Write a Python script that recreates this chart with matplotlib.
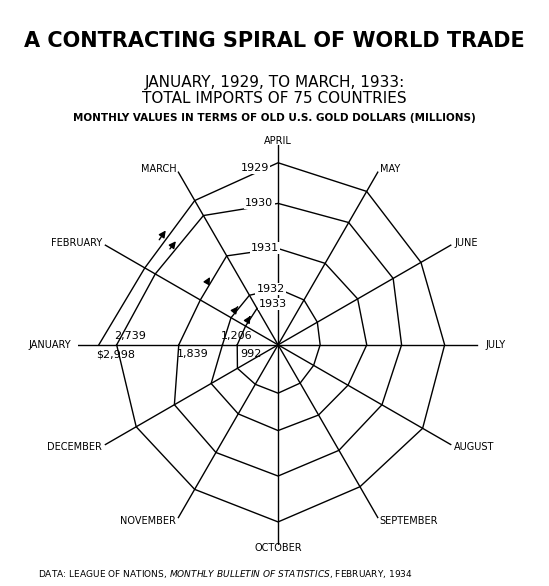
import numpy as np
import matplotlib
matplotlib.use("Agg")
import matplotlib.pyplot as plt

months = ["JANUARY","FEBRUARY","MARCH","APRIL","MAY","JUNE","JULY",
          "AUGUST","SEPTEMBER","OCTOBER","NOVEMBER","DECEMBER"]
years = ["1929","1930","1931","1932","1933"]
v1929 = [2998, 2630, 2815, 3039, 2968, 2791, 2814, 2819, 2774, 2966, 2818, 2774]
v1930 = [2739, 2455, 2564, 2450, 2447, 2326, 2190, 2138, 2165, 2301, 2201, 2135]
v1931 = [1839, 1701, 1889, 1796, 1764, 1732, 1685, 1570, 1574, 1642, 1555, 1520]
v1932 = [1206, 1187, 1230, 1213, 1151, 1057, 1010, 995, 1040, 1100, 1060, 1080]
v1933 = [992, 944, 1010]
series = [v1929, v1930, v1931, v1932, v1933]
jan_labels = ["$2,998", "2,739", "1,839", "1,206", "992"]

fig = plt.figure(figsize=(5.49, 5.86), dpi=100)
ax = fig.add_axes([0.142, 0.07, 0.729, 0.683], projection="polar")
ax.set_ylim(400, 3300)
ax.set_axis_off()

def th(i):
    return np.pi - i * np.pi / 6

for i in range(12):
    ax.plot([th(i), th(i)], [400, 3300], color="black", lw=1)
for k, vals in enumerate(series):
    t = [th(i) for i in range(len(vals))]
    r = list(vals)
    if k + 1 < len(series):
        t.append(th(12)); r.append(series[k + 1][0])
    ax.plot(t, r, color="black", lw=1)
    r1, r2 = vals[1], vals[2]
    a1, a2 = th(1), th(2)
    ax.annotate("", xy=(a1 + 0.55 * (a2 - a1), r1 + 0.55 * (r2 - r1)),
                xytext=(a1 + 0.35 * (a2 - a1), r1 + 0.35 * (r2 - r1)),
                arrowprops=dict(arrowstyle="-|>", color="black", lw=1, mutation_scale=10))
    # year label on Mar-Apr segment
    if k < 4:
        f = 0.75
        pa, pr = a2 + f * (th(3) - a2), vals[2] + f * (vals[3] - vals[2])
    else:
        pa, pr = np.pi / 2 + 0.12, 1000
    ax.annotate(years[k], (pa, pr), xytext=(0, 0), textcoords="offset points",
                fontsize=8, ha="center", va="center",
                bbox=dict(facecolor="white", edgecolor="none", pad=0.8))
    above = k in (1, 3)
    ax.annotate(jan_labels[k], (np.pi, vals[0]), xytext=(12 if k == 0 else 10, 3 if above else -3),
                textcoords="offset points", fontsize=8, ha="center",
                va="bottom" if above else "top")

for i, m in enumerate(months):
    ang = th(i)
    x = np.cos(ang)
    ha = "center" if abs(x) < 0.1 else ("left" if x > 0 else "right")
    r = 3350 if i not in (0, 6) else 3400
    ax.text(ang, r, m, fontsize=7, ha=ha, va="center", family="Liberation Sans Narrow")

fig.text(0.5, 0.92, "A CONTRACTING SPIRAL OF WORLD TRADE", ha="center",
         fontsize=15, weight="bold", family="Liberation Sans Narrow")
fig.text(0.5, 0.825, "JANUARY, 1929, TO MARCH, 1933:\nTOTAL IMPORTS OF 75 COUNTRIES",
         ha="center", fontsize=11, linespacing=1.05)
fig.text(0.5, 0.793, "MONTHLY VALUES IN TERMS OF OLD U.S. GOLD DOLLARS (MILLIONS)",
         ha="center", fontsize=7.5, weight="bold", family="Liberation Sans Narrow")
fig.text(0.07, 0.015, "DATA: LEAGUE OF NATIONS, $\\it{MONTHLY\\ BULLETIN\\ OF\\ STATISTICS}$, FEBRUARY, 1934",
         fontsize=6.5)
fig.savefig("out.png", dpi=100)
